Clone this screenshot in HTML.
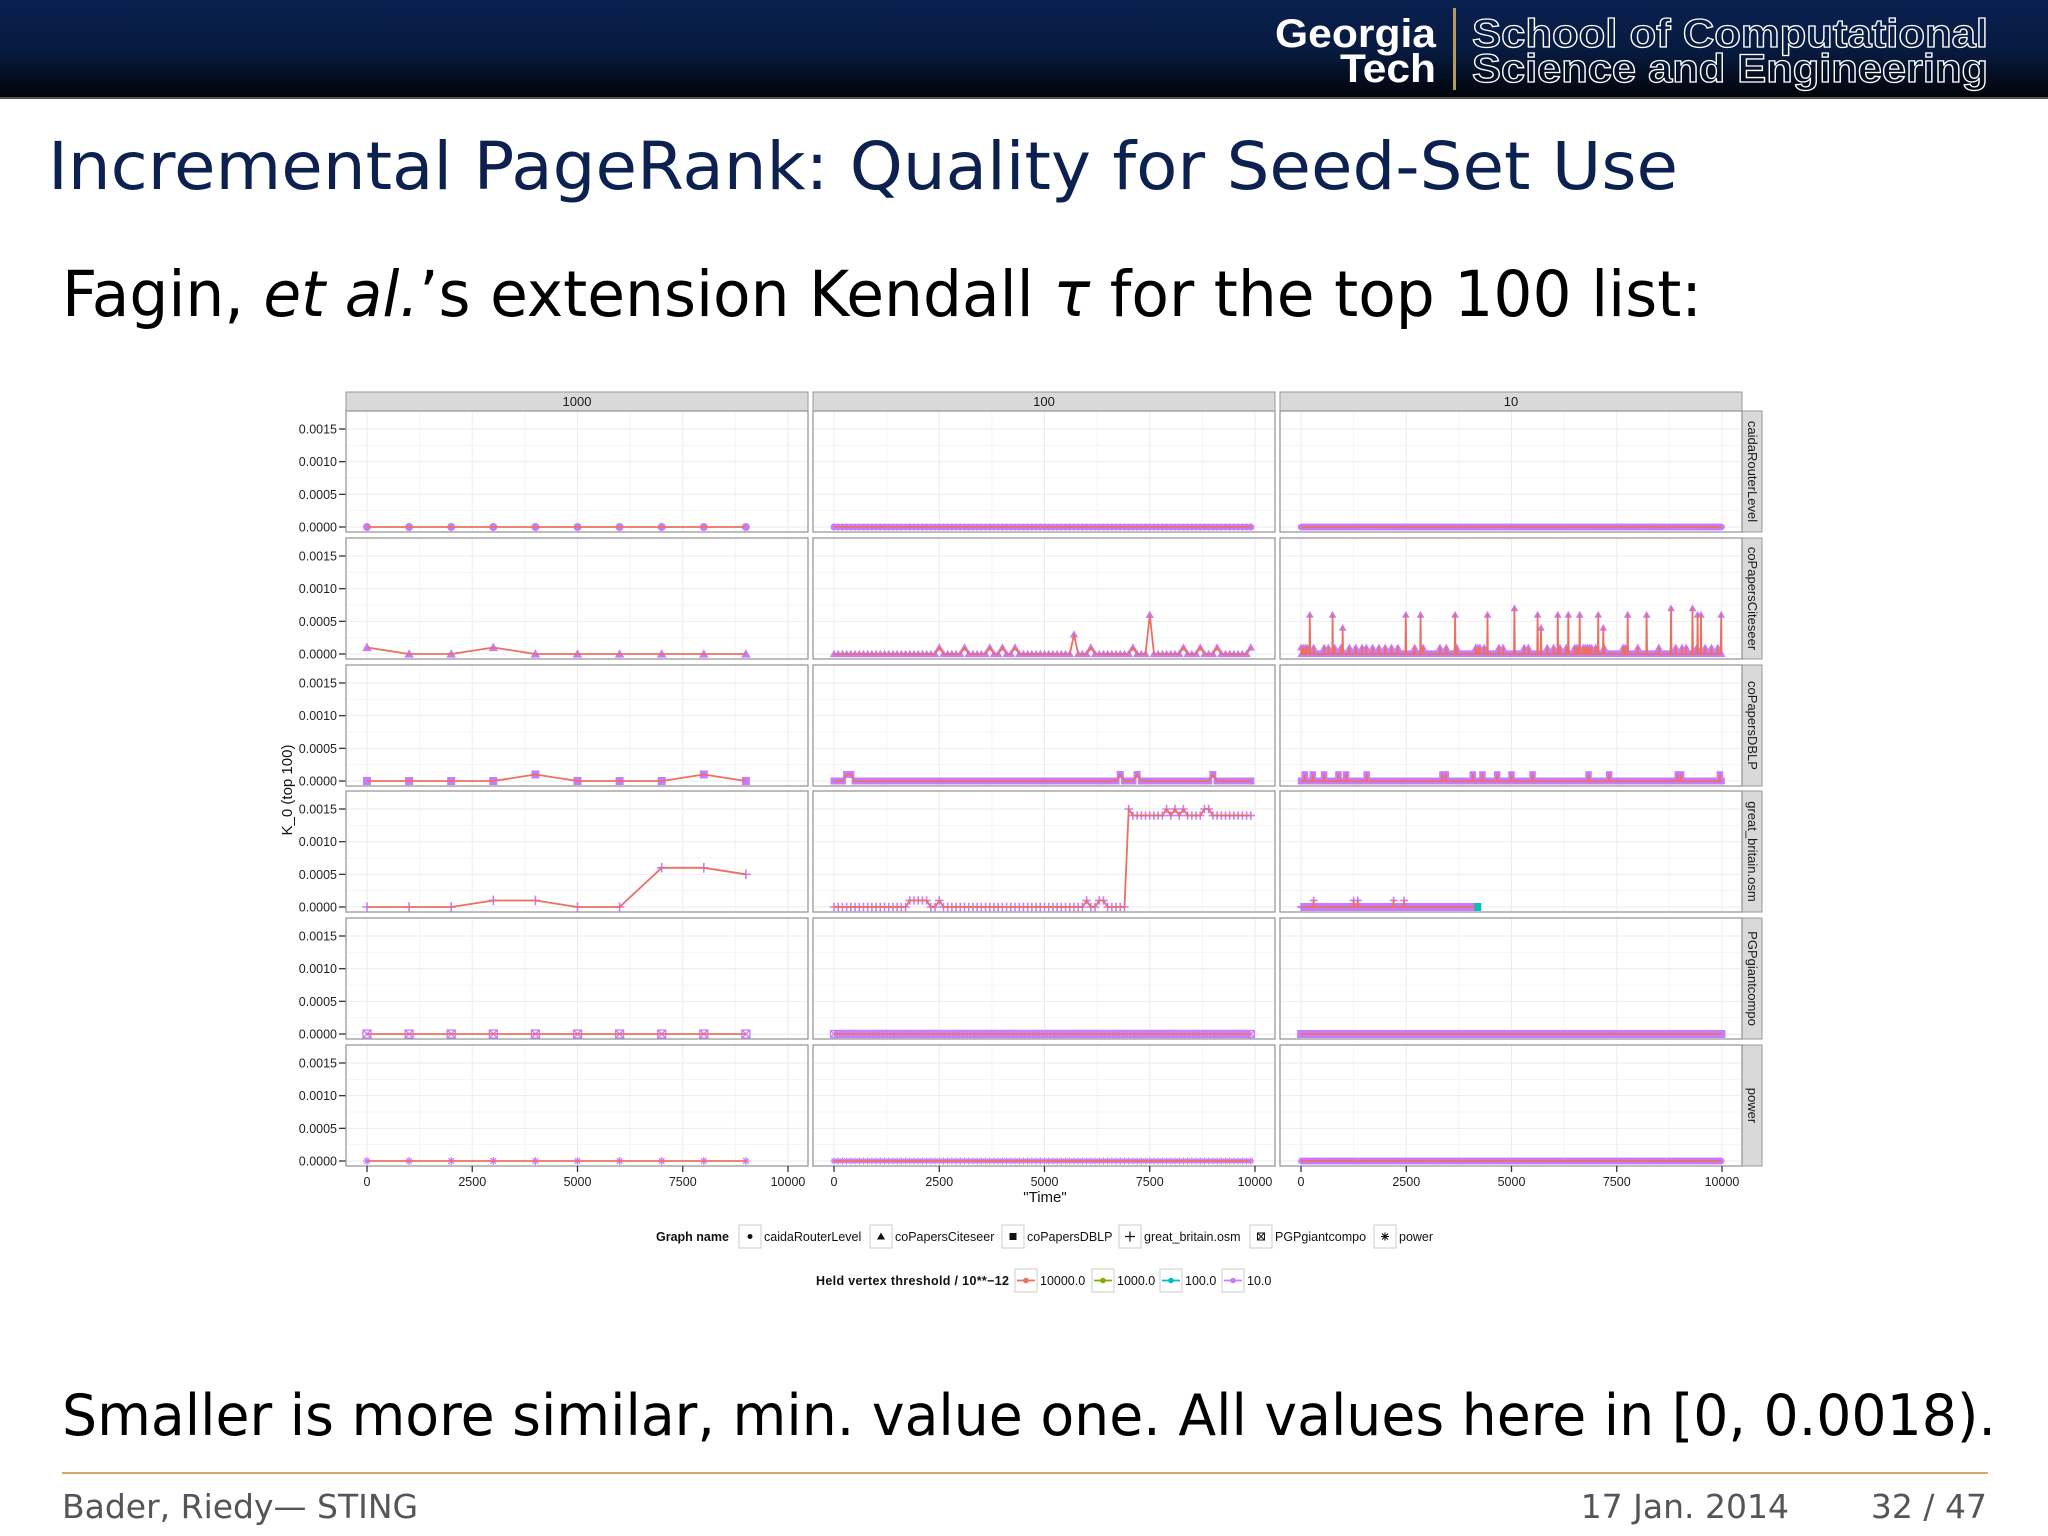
<!DOCTYPE html>
<html><head><meta charset="utf-8">
<style>
html,body{margin:0;padding:0;background:#fff;}
svg{display:block;}
</style></head>
<body>
<svg id="slide" width="2048" height="1536" viewBox="0 0 2048 1536" xmlns="http://www.w3.org/2000/svg" font-family="DejaVu Sans, Liberation Sans, sans-serif">
<defs>
<linearGradient id="hdr" x1="0" y1="0" x2="0" y2="1">
<stop offset="0" stop-color="#0a2050"/><stop offset="0.55" stop-color="#071a3e"/><stop offset="1" stop-color="#020409"/>
</linearGradient>
</defs>
<g>
<rect x="0" y="0" width="2048" height="97" fill="url(#hdr)"/>
<rect x="0" y="97" width="2048" height="2" fill="#555"/>
<text x="1275" y="47" font-family="Liberation Sans, sans-serif" font-weight="bold" font-size="40" fill="#fff" textLength="161" lengthAdjust="spacingAndGlyphs">Georgia</text>
<text x="1340" y="82" font-family="Liberation Sans, sans-serif" font-weight="bold" font-size="40" fill="#fff" textLength="96" lengthAdjust="spacingAndGlyphs">Tech</text>
<rect x="1453" y="8" width="3" height="82" fill="#b39b5f"/>
<text x="1472" y="47" font-family="Liberation Sans, sans-serif" font-weight="bold" font-size="40" fill="none" stroke="#fff" stroke-width="1.3" textLength="516" lengthAdjust="spacingAndGlyphs">School of Computational</text>
<text x="1472" y="82" font-family="Liberation Sans, sans-serif" font-weight="bold" font-size="40" fill="none" stroke="#fff" stroke-width="1.3" textLength="516" lengthAdjust="spacingAndGlyphs">Science and Engineering</text>
</g>
<text x="48" y="189" font-size="66" fill="#0d2150" textLength="1630" lengthAdjust="spacingAndGlyphs">Incremental PageRank: Quality for Seed-Set Use</text>
<text x="62" y="316" font-size="63" fill="#000" textLength="1640" lengthAdjust="spacingAndGlyphs">Fagin, <tspan font-style="italic">et al.</tspan>’s extension Kendall <tspan font-style="italic">τ</tspan> for the top 100 list:</text>
<g id="chart"></g>
<text x="62" y="1435" font-size="57" fill="#000" textLength="1934" lengthAdjust="spacingAndGlyphs">Smaller is more similar, min. value one. All values here in [0, 0.0018).</text>
<rect x="62" y="1472" width="1926" height="2" fill="#d7a86a"/>
<text x="62" y="1518" font-size="33" fill="#555">Bader, Riedy— STING</text>
<text x="1789" y="1518" text-anchor="end" font-size="33" fill="#555">17 Jan. 2014</text>
<text x="1987" y="1518" text-anchor="end" font-size="33" fill="#555">32 / 47</text>
</svg>
<script>
// ---- data ----
const graphNames = ["caidaRouterLevel","coPapersCiteseer","coPapersDBLP","great_britain.osm","PGPgiantcompo","power"];
const facetLabels = ["1000","100","10"];
const yTicks = [0, 0.0005, 0.0010, 0.0015];
const yTickLabels = ["0.0000","0.0005","0.0010","0.0015"];
const xTicks = [0, 2500, 5000, 7500, 10000];
const xTickLabels = ["0","2500","5000","7500","10000"];
// facet 1000 (dense values)
const times1000 = [0,1000,2000,3000,4000,5000,6000,7000,8000,9000];
const caida1000 = [0,0,0,0,0,0,0,0,0,0];
const cite1000 = [0.0001,0,0,0.0001,0,0,0,0,0,0];
const dblp1000 = [0,0,0,0,0.0001,0,0,0,0.0001,0];
const gb1000 = [0,0,0,0.0001,0.0001,0,0,0.0006,0.0006,0.0005];
const pgp1000 = [0,0,0,0,0,0,0,0,0,0];
const power1000 = [0,0,0,0,0,0,0,0,0,0];
// facet 100 (sparse nonzero values; all others are 0)
const end100 = [9900,9900,9900,9900,9900,9900];
const cite100T = [2500,3100,3700,4000,4300,5700,6100,7100,7500,8300,8700,9100,9900];
const cite100V = [0.0001,0.0001,0.0001,0.0001,0.0001,0.0003,0.0001,0.0001,0.0006,0.0001,0.0001,0.0001,0.0001];
const dblp100T = [300,400,6800,7200,9000];
const dblp100V = [0.0001,0.0001,0.0001,0.0001,0.0001];
const gb100T = [1800,1900,2000,2100,2200,2500,6000,6300,6400,7000,7100,7200,7300,7400,7500,7600,7700,7800,7900,8000,8100,8200,8300,8400,8500,8600,8700,8800,8900,9000,9100,9200,9300,9400,9500,9600,9700,9800,9900];
const gb100V = [0.0001,0.0001,0.0001,0.0001,0.0001,0.0001,0.0001,0.0001,0.0001,0.0015,0.0014,0.0014,0.0014,0.0014,0.0014,0.0014,0.0014,0.0014,0.0015,0.0014,0.0015,0.0014,0.0015,0.0014,0.0014,0.0014,0.0014,0.0015,0.0015,0.0014,0.0014,0.0014,0.0014,0.0014,0.0014,0.0014,0.0014,0.0014,0.0014];
// facet 10 (sparse)
const end10 = [9990,9990,9990,4140,9990,9990];
const cite10T = [210,750,990,2490,2840,3660,4430,5070,5620,5700,6100,6350,6620,7060,7180,7760,8210,8790,9300,9420,9500,9980,
 0,50,100,150,300,550,650,800,950,1150,1300,1450,1550,1700,1850,2000,2150,2300,2700,2900,3300,3450,3700,4150,4200,4250,4350,4700,4800,5300,5400,5850,6000,6150,6300,6500,6550,6600,6700,6750,6800,6850,6900,7000,7200,7650,7700,8000,8500,8900,9050,9150,9400,9600,9750,9900];
const cite10V = [0.0006,0.0006,0.0004,0.0006,0.0006,0.0006,0.0006,0.0007,0.0006,0.0004,0.0006,0.0006,0.0006,0.0006,0.0004,0.0006,0.0006,0.0007,0.0007,0.0006,0.0006,0.0006,
 0.0001,0.0001,0.0001,0.0001,0.0001,0.0001,0.0001,0.0001,0.0001,0.0001,0.0001,0.0001,0.0001,0.0001,0.0001,0.0001,0.0001,0.0001,0.0001,0.0001,0.0001,0.0001,0.0001,0.0001,0.0001,0.0001,0.0001,0.0001,0.0001,0.0001,0.0001,0.0001,0.0001,0.0001,0.0001,0.0001,0.0001,0.0001,0.0001,0.0001,0.0001,0.0001,0.0001,0.0001,0.0001,0.0001,0.0001,0.0001,0.0001,0.0001,0.0001,0.0001,0.0001,0.0001,0.0001,0.0001];
const dblp10T = [90,280,550,890,1070,1560,3360,3440,4080,4310,4660,5000,5500,6830,7320,8950,9030,9950];
const dblp10V = [0.0001,0.0001,0.0001,0.0001,0.0001,0.0001,0.0001,0.0001,0.0001,0.0001,0.0001,0.0001,0.0001,0.0001,0.0001,0.0001,0.0001,0.0001];
const gb10T = [300,1250,1350,2200,2450];
const gb10V = [0.0001,0.0001,0.0001,0.0001,0.0001];
const emptyT = [], emptyV = [];

const dense1000 = [caida1000,cite1000,dblp1000,gb1000,pgp1000,power1000];
const sparse100 = [[emptyT,emptyV],[cite100T,cite100V],[dblp100T,dblp100V],[gb100T,gb100V],[emptyT,emptyV],[emptyT,emptyV]];
const sparse10 = [[emptyT,emptyV],[cite10T,cite10V],[dblp10T,dblp10V],[gb10T,gb10V],[emptyT,emptyV],[emptyT,emptyV]];

// ---- layout ----
const NS = "http://www.w3.org/2000/svg";
const colL = [346, 813, 1280], PW = 462;
const rowT = [411, 538, 665, 791, 918, 1045], PH = 121;
const RED = "#ec7061", PUR = "#c77cff";
const chart = document.getElementById("chart");
function mk(tag, attrs, parent){ const e=document.createElementNS(NS,tag); for(const k in attrs) e.setAttribute(k,attrs[k]); (parent||chart).appendChild(e); return e; }
function xs(c,t){ return colL[c] + 21 + t/10000*421; }
function ys(r,v){ return rowT[r] + 116 - v/0.0015*98; }

function marker(shape, x, y, s, g){
  let e;
  if(shape===0){ e=mk("circle",{cx:x,cy:y,r:s*0.5,fill:PUR},g); }
  else if(shape===1){ e=mk("polygon",{points:`${x},${y-s*0.6} ${x-s*0.6},${y+s*0.45} ${x+s*0.6},${y+s*0.45}`,fill:PUR},g); }
  else if(shape===2){ e=mk("rect",{x:x-s*0.5,y:y-s*0.5,width:s,height:s,fill:PUR},g); }
  else if(shape===3){ e=mk("path",{d:`M${x-s*0.6},${y}H${x+s*0.6}M${x},${y-s*0.6}V${y+s*0.6}`,stroke:PUR,"stroke-width":1.6,fill:"none"},g); }
  else if(shape===4){ e=mk("path",{d:`M${x-s/2},${y-s/2}h${s}v${s}h${-s}zM${x-s/2},${y-s/2}L${x+s/2},${y+s/2}M${x+s/2},${y-s/2}L${x-s/2},${y+s/2}`,stroke:PUR,"stroke-width":1.3,fill:"none"},g); }
  else { e=mk("path",{d:`M${x-s/2},${y}H${x+s/2}M${x},${y-s/2}V${y+s/2}M${x-s*0.35},${y-s*0.35}L${x+s*0.35},${y+s*0.35}M${x+s*0.35},${y-s*0.35}L${x-s*0.35},${y+s*0.35}`,stroke:PUR,"stroke-width":1.3,fill:"none"},g); }
  
  
}

function seriesFor(c, r){
  let T=[], V=[];
  if(c===0){ T=times1000.slice(); V=dense1000[r].slice(); }
  else {
    const step = c===1 ? 100 : 10;
    const end = c===1 ? end100[r] : end10[r];
    const sp = c===1 ? sparse100[r] : sparse10[r];
    const m = new Map(); sp[0].forEach((t,i)=>m.set(t, sp[1][i]));
    for(let t=0;t<=end;t+=step){ T.push(t); V.push(m.has(t)?m.get(t):0); }
  }
  return [T,V];
}

for(let c=0;c<3;c++){
  const s = mk("rect",{x:colL[c],y:392,width:PW,height:19,fill:"#d9d9d9",stroke:"#999","stroke-width":1});
  
  
  const t = mk("text",{x:colL[c]+PW/2,y:406,"text-anchor":"middle","font-family":"Liberation Sans, sans-serif","font-size":13,fill:"#1a1a1a"});
  t.textContent = facetLabels[c];
  
  
}
for(let r=0;r<6;r++){
  const s = mk("rect",{x:1742,y:rowT[r],width:20,height:PH,fill:"#d9d9d9",stroke:"#999","stroke-width":1});
  
  
  const cx=1748, cy=rowT[r]+PH/2;
  const t = mk("text",{x:cx,y:cy,transform:`rotate(90 ${cx} ${cy})`,"text-anchor":"middle","font-family":"Liberation Sans, sans-serif","font-size":13,fill:"#1a1a1a"});
  t.textContent = graphNames[r];
  
  
}
for(let r=0;r<6;r++){
  yTicks.forEach((v,i)=>{
    const y=ys(r,v);
    const tk = mk("line",{x1:339,x2:346,y1:y,y2:y,stroke:"#333","stroke-width":1.3});
    
    
    const tl = mk("text",{x:337,y:y+4.5,"text-anchor":"end","font-family":"Liberation Sans, sans-serif","font-size":12.5,fill:"#222"});
    tl.textContent = yTickLabels[i];
    
    
  });
  for(let c=0;c<3;c++){
    const g = mk("g",{});
    
    
    mk("rect",{x:colL[c],y:rowT[r],width:PW,height:PH,fill:"#fff"},g);
    for(let i=0;i<yTicks.length-1;i++){ const y=ys(r,(yTicks[i]+yTicks[i+1])/2); mk("line",{x1:colL[c],x2:colL[c]+PW,y1:y,y2:y,stroke:"#f4f4f8","stroke-width":1},g); }
    for(let i=0;i<xTicks.length-1;i++){ const x=xs(c,(xTicks[i]+xTicks[i+1])/2); mk("line",{x1:x,x2:x,y1:rowT[r],y2:rowT[r]+PH,stroke:"#f4f4f8","stroke-width":1},g); }
    yTicks.forEach(v=>{ const y=ys(r,v); mk("line",{x1:colL[c],x2:colL[c]+PW,y1:y,y2:y,stroke:"#ebebf2","stroke-width":1},g); });
    xTicks.forEach(t=>{ const x=xs(c,t); mk("line",{x1:x,x2:x,y1:rowT[r],y2:rowT[r]+PH,stroke:"#ebebf2","stroke-width":1},g); });
    const [T,V] = seriesFor(c,r);
    const pts = T.map((t,i)=>xs(c,t).toFixed(1)+","+ys(r,V[i]).toFixed(1)).join(" ");
    const s = c===0?8:(c===1?7:6.5);
    const mg = mk("g",{},g);
    
    
    T.forEach((t,i)=>marker(r, xs(c,t), ys(r,V[i]), s, mg));
    if(c===2 && r===3){
      const tp = mk("rect",{x:xs(c,T[T.length-1])-1,y:ys(r,0)-4,width:7,height:8,fill:"#00bfc4"},g);
      
      
    }
    const ln = mk("polyline",{points:pts,fill:"none",stroke:RED,"stroke-width":1.8,"stroke-linejoin":"round"},g);
    
    
    mk("rect",{x:colL[c],y:rowT[r],width:PW,height:PH,fill:"none",stroke:"#999","stroke-width":1.3},g);
  }
}
for(let c=0;c<3;c++){
  xTicks.forEach((t,i)=>{
    const x=xs(c,t);
    const tk = mk("line",{x1:x,x2:x,y1:1166,y2:1172,stroke:"#333","stroke-width":1.3});
    
    
    const tl = mk("text",{x:x,y:1186,"text-anchor":"middle","font-family":"Liberation Sans, sans-serif","font-size":12.5,fill:"#222"});
    tl.textContent = xTickLabels[i];
    
    
  });
}
const xt = mk("text",{x:1045,y:1202,"text-anchor":"middle","font-family":"Liberation Sans, sans-serif","font-size":15,fill:"#111"});
xt.textContent = '"Time"';


const yt = mk("text",{x:292,y:790,transform:"rotate(-90 292 790)","text-anchor":"middle","font-family":"Liberation Sans, sans-serif","font-size":15,fill:"#111"});
yt.textContent = 'K_0 (top 100)';



const lg1 = mk("text",{x:656,y:1241,"font-family":"Liberation Sans, sans-serif","font-weight":"bold","font-size":12.5,fill:"#111"});
lg1.textContent = "Graph name";


const lgBoxX = [739,870,1002,1119,1250,1374];
graphNames.forEach((n,i)=>{
  const g = mk("g",{});
  
  
  mk("rect",{x:lgBoxX[i],y:1225,width:22,height:23,fill:"#fff",stroke:"#ccc"},g);
  const cx=lgBoxX[i]+11, cy=1236.5, k=5;
  if(i===0) mk("circle",{cx,cy,r:2.5,fill:"#111"},g);
  else if(i===1) mk("polygon",{points:`${cx},${cy-4} ${cx-4},${cy+3} ${cx+4},${cy+3}`,fill:"#111"},g);
  else if(i===2) mk("rect",{x:cx-3.5,y:cy-3.5,width:7,height:7,fill:"#111"},g);
  else if(i===3) mk("path",{d:`M${cx-k},${cy}H${cx+k}M${cx},${cy-k}V${cy+k}`,stroke:"#111","stroke-width":1.2},g);
  else if(i===4) mk("path",{d:`M${cx-3.5},${cy-3.5}h7v7h-7zM${cx-3.5},${cy-3.5}l7,7M${cx+3.5},${cy-3.5}l-7,7`,stroke:"#111","stroke-width":1,fill:"none"},g);
  else mk("path",{d:`M${cx-4},${cy}H${cx+4}M${cx},${cy-4}V${cy+4}M${cx-3},${cy-3}L${cx+3},${cy+3}M${cx+3},${cy-3}L${cx-3},${cy+3}`,stroke:"#111","stroke-width":1.1},g);
  const t = mk("text",{x:lgBoxX[i]+25,y:1241,"font-family":"Liberation Sans, sans-serif","font-size":12.5,fill:"#111"},g);
  t.textContent = n;
});
const lg2 = mk("text",{x:816,y:1285,"font-family":"Liberation Sans, sans-serif","font-weight":"bold","font-size":12.5,fill:"#111",textLength:193});
lg2.textContent = "Held vertex threshold / 10**−12";


const thrLabels = ["10000.0","1000.0","100.0","10.0"];
const thrColors = [RED,"#7cae00","#00bfc4",PUR];
const thrBoxX = [1015,1092,1160,1222];
thrLabels.forEach((n,i)=>{
  const g = mk("g",{});
  
  
  mk("rect",{x:thrBoxX[i],y:1269,width:22,height:23,fill:"#fff",stroke:"#ccc"},g);
  mk("line",{x1:thrBoxX[i]+2,x2:thrBoxX[i]+20,y1:1280.5,y2:1280.5,stroke:thrColors[i],"stroke-width":1.8},g);
  mk("circle",{cx:thrBoxX[i]+11,cy:1280.5,r:2.8,fill:thrColors[i]},g);
  const t = mk("text",{x:thrBoxX[i]+25,y:1285,"font-family":"Liberation Sans, sans-serif","font-size":12.5,fill:"#111"},g);
  t.textContent = n;
});
</script>
</body></html>
